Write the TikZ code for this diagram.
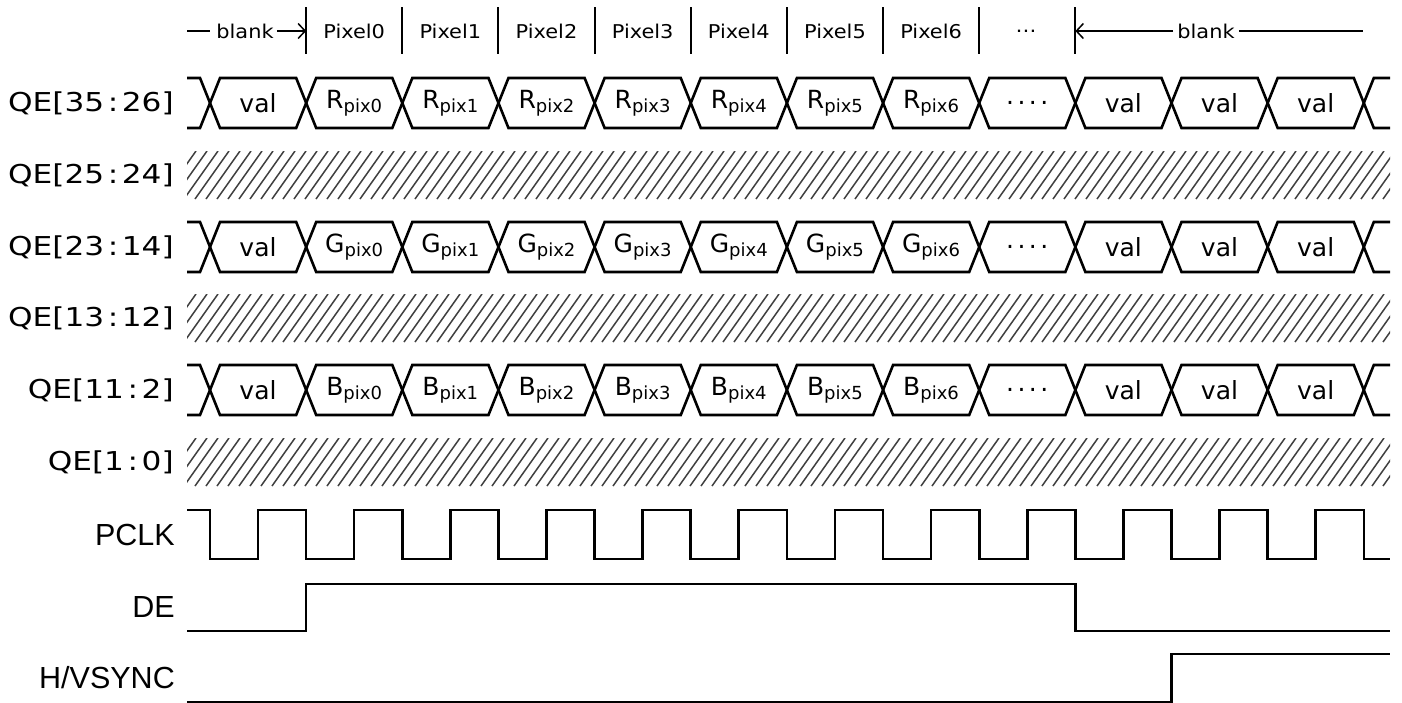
\documentclass[tikz,border=0pt]{standalone}
\usepackage{fontspec}
\usepackage{graphicx}
\setmainfont{DejaVu Sans}
\newfontfamily\arialfont{Liberation Sans}
\usetikzlibrary{arrows.meta}
\newcommand\wtext[1]{\scalebox{1.1}[1]{#1}}
\newcommand\qelab[2]{\scalebox{1.2}[1]{QE[#1\kern3pt:\kern3pt#2]}}
\newcommand\pixsub[2]{#1{\fontsize{18}{18}\selectfont\raisebox{-4pt}{#2}}}
\newcommand\busrow[1]{%
  \draw[sig] (187,#1-25) \foreach \k in {0,2,...,10} {
      -- (200+96.15*\k,#1-25) -- (220+96.15*\k,#1+25)
      -- (296.15+96.15*\k,#1+25) -- (316.15+96.15*\k,#1-25)}
    -- (1353.8,#1-25) -- (1373.8,#1+25) -- (1390,#1+25);
  \draw[sig] (187,#1+25) \foreach \k in {0,2,...,10} {
      -- (200+96.15*\k,#1+25) -- (220+96.15*\k,#1-25)
      -- (296.15+96.15*\k,#1-25) -- (316.15+96.15*\k,#1+25)}
    -- (1353.8,#1+25) -- (1373.8,#1-25) -- (1390,#1-25);
}
\newcommand\hatchrow[1]{%
  \begin{scope}
    \clip (187,#1-24) rectangle (1390,#1+24);
    \foreach \x in {140,151,...,1400} \draw[hatchline] (\x,#1+24) -- ++(34,-48);
  \end{scope}
}
\begin{document}
\begin{tikzpicture}[x=1pt,y=-1pt,
  sig/.style={line width=2.6pt,line join=miter},
  hatchline/.style={line width=1.5pt,black!75},
  lab/.style={anchor=east,inner sep=0pt,font=\fontsize{26}{30}\selectfont},
  sigl/.style={anchor=east,inner sep=0pt,font=\arialfont\fontsize{30.5}{34}\selectfont},
  val/.style={inner sep=0pt,font=\fontsize{25}{28}\selectfont},
  hdr/.style={inner sep=5pt,font=\fontsize{19}{22}\selectfont},
  bar/.style={line width=2pt},
  hline/.style={line width=1.5pt},
  barb/.style={-{Straight Barb[length=7pt,width=15pt,line width=1.5pt]}}]
\useasboundingbox (0,0) rectangle (1402,702);

% header
\foreach \k in {0,...,8} {
  \coordinate (bt\k) at (306.15+96.15*\k,7);
  \coordinate (bb\k) at (306.15+96.15*\k,54);
  \draw[bar] (bt\k) -- (bb\k);
}
\foreach \k in {0,...,6}
  \node[hdr] (px\k) at (354.2+96.15*\k,31) {\wtext{Pixel\k}};
\node[hdr] (hdots) at (1026,31) {\wtext{…}};
\coordinate (hl0) at (187,31);
\coordinate (hl1) at (210,31);
\draw[hline] (hl0) -- (hl1);
\node[hdr,inner sep=3pt] (blankL) at (245,31) {\wtext{blank}};
\draw[hline,barb] (blankL.east) -- (bt0 |- blankL.east);
\node[hdr,inner sep=4pt] (blankR) at (1206,31) {\wtext{blank}};
\draw[hline,barb] (blankR.west) -- (bt8 |- blankR.west);
\coordinate (hr1) at (1363,31);
\draw[hline] (blankR.east) -- (hr1);

% labels
\node[lab] (l0) at (174,103) {\qelab{35}{26}};
\node[lab] (l1) at (174,175) {\qelab{25}{24}};
\node[lab] (l2) at (174,247) {\qelab{23}{14}};
\node[lab] (l3) at (174,318) {\qelab{13}{12}};
\node[lab] (l4) at (174,390) {\qelab{11}{2}};
\node[lab] (l5) at (174,462) {\qelab{1}{0}};
\node[sigl] (l6) at (175,535) {PCLK};
\node[sigl] (l7) at (175,607) {DE};
\node[sigl] (l8) at (175,678) {H/VSYNC};

% bus rows
\busrow{103}
\busrow{247}
\busrow{390}
\foreach \y/\r/\c in {103/R/r,247/G/g,390/B/b} {
  \node[val] (\c0) at (258,\y) {val};
  \foreach \k in {1,...,7} {
    \pgfmathtruncatemacro\n{\k-1}
    \node[val] (\c\k) at (258+96.15*\k,\y) {\pixsub{\r}{pix\n}};
  }
  \node[val] (\c8) at (258+96.15*8,\y) {.\kern3.5pt.\kern3.5pt.\kern3.5pt.};
  \foreach \k in {9,10,11}
    \node[val] (\c\k) at (258+96.15*\k,\y) {val};
}

% hatched rows
\hatchrow{175}
\hatchrow{318}
\hatchrow{462}

% PCLK
\draw[sig] (187,510) \foreach \k in {0,...,11} {
    -- (210+96.15*\k,510) -- (210+96.15*\k,559)
    -- (258+96.15*\k,559) -- (258+96.15*\k,510)}
  -- (1363.8,510) -- (1363.8,559) -- (1390,559);
% DE
\draw[sig] (187,631) -- (306.15,631) -- (306.15,584) -- (1075.4,584) -- (1075.4,631) -- (1390,631);
% H/VSYNC
\draw[sig] (187,702) -- (1171.5,702) -- (1171.5,654) -- (1390,654);
\end{tikzpicture}
\end{document}
